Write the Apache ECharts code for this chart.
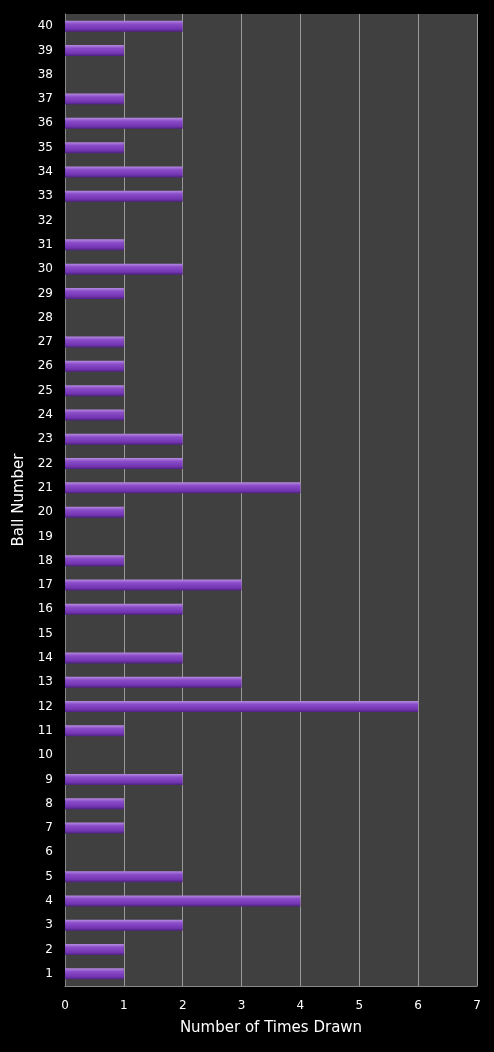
<!DOCTYPE html><html><head><meta charset="utf-8"><script src="https://cdn.jsdelivr.net/npm/echarts@6/dist/echarts.min.js"></script>
<style>html,body{margin:0;background:#000}#c{width:494px;height:1052px}</style></head><body><div id="c"></div><script>
const categories=[];for(let i=1;i<=40;i++)categories.push(String(i));
const timesDrawn=[1,1,2,4,2,0,1,1,2,0,1,6,3,2,0,2,3,1,0,1,4,2,2,1,1,1,1,0,1,2,1,0,2,2,1,2,1,0,1,2];
const xTicks={min:0,max:7,interval:1};
const ch=echarts.init(document.getElementById('c'));
const f='"DejaVu Sans", Verdana, sans-serif';
ch.setOption({backgroundColor:'#000',animation:false,
grid:{left:65,right:17,top:14,bottom:66,show:true,backgroundColor:'#404040',borderWidth:0},
xAxis:{type:'value',min:xTicks.min,max:xTicks.max,interval:xTicks.interval,name:'Number of Times Drawn',nameLocation:'middle',nameGap:35,
nameTextStyle:{color:'#fff',fontSize:15,fontFamily:f},axisLabel:{color:'#fff',fontSize:12,fontFamily:f,margin:14},
axisLine:{show:true,lineStyle:{color:'#888'}},axisTick:{show:false},splitLine:{lineStyle:{color:'#9a9a9a',width:1}}},
yAxis:{type:'category',data:categories,name:'Ball Number',nameLocation:'middle',nameGap:34,nameTextStyle:{color:'#fff',fontSize:15,fontFamily:f},
axisLabel:{color:'#fff',fontSize:12,fontFamily:f,margin:12},axisLine:{show:true,lineStyle:{color:'#888'}},axisTick:{show:false}},
series:[{type:'bar',data:timesDrawn,barWidth:11,itemStyle:{color:new echarts.graphic.LinearGradient(0,0,0,1,[{offset:0,color:'#b58be0'},{offset:0.3,color:'#8a4cc8'},{offset:0.75,color:'#7435b3'},{offset:1,color:'#4e2280'}])}}]});
</script></body></html>
